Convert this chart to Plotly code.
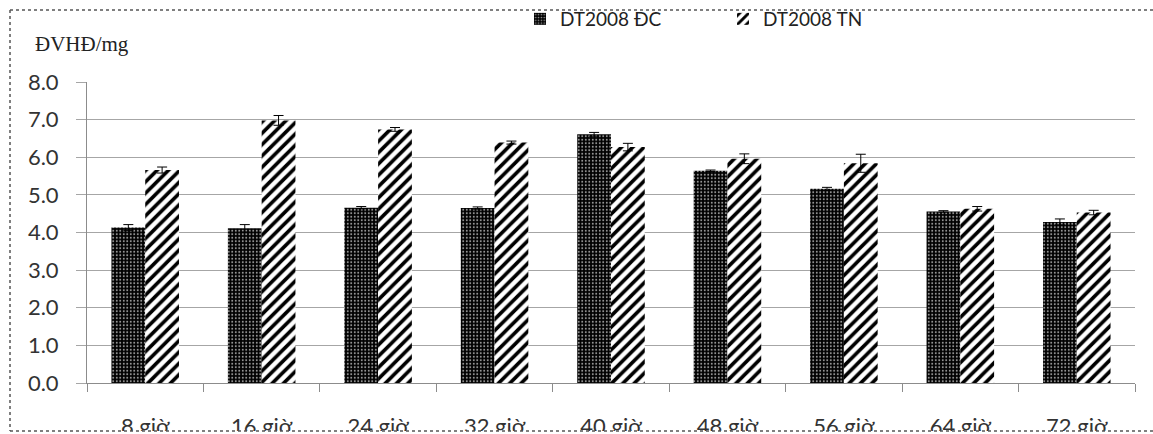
import plotly.graph_objects as go

categories = ["8 giờ", "16 giờ", "24 giờ", "32 giờ", "40 giờ", "48 giờ", "56 giờ", "64 giờ", "72 giờ"]
dc_values = [4.13, 4.11, 4.66, 4.65, 6.61, 5.64, 5.16, 4.56, 4.28]
dc_errors = [0.08, 0.10, 0.03, 0.03, 0.05, 0.02, 0.04, 0.02, 0.08]
tn_values = [5.66, 6.98, 6.74, 6.39, 6.27, 5.96, 5.84, 4.63, 4.53]
tn_errors = [0.08, 0.13, 0.05, 0.04, 0.10, 0.13, 0.24, 0.06, 0.06]
y_ticks = [0, 1, 2, 3, 4, 5, 6, 7, 8]
y_tick_text = ["0.0", "1.0", "2.0", "3.0", "4.0", "5.0", "6.0", "7.0", "8.0"]

W, H = 1153, 434
ML, MR, MT, MB = 87, 18, 82, 51
PW, PH = W - ML - MR, H - MT - MB


def px(x):
    return (x - ML) / PW


def py(y):
    return (H - MB - y) / PH


fig = go.Figure()
fig.add_trace(go.Bar(
    name="DT2008 ĐC", x=categories, y=dc_values,
    error_y=dict(type="data", array=dc_errors, color="black", thickness=1, width=5),
    marker=dict(color="black", line=dict(width=0),
                pattern=dict(shape=".", size=3.5, solidity=0.25, fgcolor="#9a9a9a",
                             bgcolor="black", fillmode="replace")),
))
fig.add_trace(go.Bar(
    name="DT2008 TN", x=categories, y=tn_values,
    error_y=dict(type="data", array=tn_errors, color="black", thickness=1, width=5),
    marker=dict(color="black", line=dict(width=0),
                pattern=dict(shape="/", size=8, solidity=0.45, fgcolor="black",
                             bgcolor="white", fillmode="replace")),
))

font_tick = "Lato, 'Open Sans', sans-serif"

fig.update_layout(
    width=W, height=H,
    margin=dict(l=ML, r=MR, t=MT, b=MB, autoexpand=False),
    paper_bgcolor="white", plot_bgcolor="white",
    barmode="group", bargap=0.42, bargroupgap=0,
    showlegend=True,
    legend=dict(orientation="h", x=px(520), y=py(0), xanchor="left", yanchor="top",
                font=dict(family=font_tick, size=19, color="#222"),
                entrywidth=158, entrywidthmode="pixels",
                bgcolor="rgba(0,0,0,0)"),
    xaxis=dict(
        type="category", showgrid=False, showline=True, linecolor="#8c8c8c", linewidth=1,
        ticks="outside", ticklen=8, tickcolor="#8c8c8c", tickson="boundaries",
        tickfont=dict(family=font_tick, size=22, color="#333"),
        ticklabelstandoff=24,
    ),
    yaxis=dict(
        range=[0, 8], tickvals=y_ticks, ticktext=y_tick_text,
        showgrid=True, gridcolor="#a6a6a6", gridwidth=1.3,
        showline=True, linecolor="#8c8c8c", linewidth=1,
        ticks="outside", ticklen=10, tickcolor="#a6a6a6",
        tickfont=dict(family=font_tick, size=22, color="#333"),
        ticklabelstandoff=13, zeroline=False,
    ),
    annotations=[dict(
        text="ĐVHĐ/mg", xref="paper", yref="paper", x=px(33), y=py(44),
        xanchor="left", yanchor="middle", showarrow=False,
        font=dict(family="Liberation Serif", size=21, color="#222"),
    )],
    shapes=[
        dict(type="rect", xref="paper", yref="paper", x0=px(0), x1=px(W), y0=py(H), y1=py(431),
             fillcolor="white", line=dict(width=0), layer="above"),
        dict(type="line", xref="paper", yref="paper", x0=px(10), x1=px(W), y0=py(10), y1=py(10),
             line=dict(color="#555", width=1.5, dash="dot"), layer="above"),
        dict(type="line", xref="paper", yref="paper", x0=px(10), x1=px(W), y0=py(431), y1=py(431),
             line=dict(color="#555", width=1.5, dash="dot"), layer="above"),
        dict(type="line", xref="paper", yref="paper", x0=px(10), x1=px(10), y0=py(10), y1=py(431),
             line=dict(color="#555", width=1.5, dash="dot"), layer="above"),
    ],
)

fig.write_html("out.html", config={"displayModeBar": False},
               post_script="document.body.style.margin='0';document.body.style.overflow='hidden';")
